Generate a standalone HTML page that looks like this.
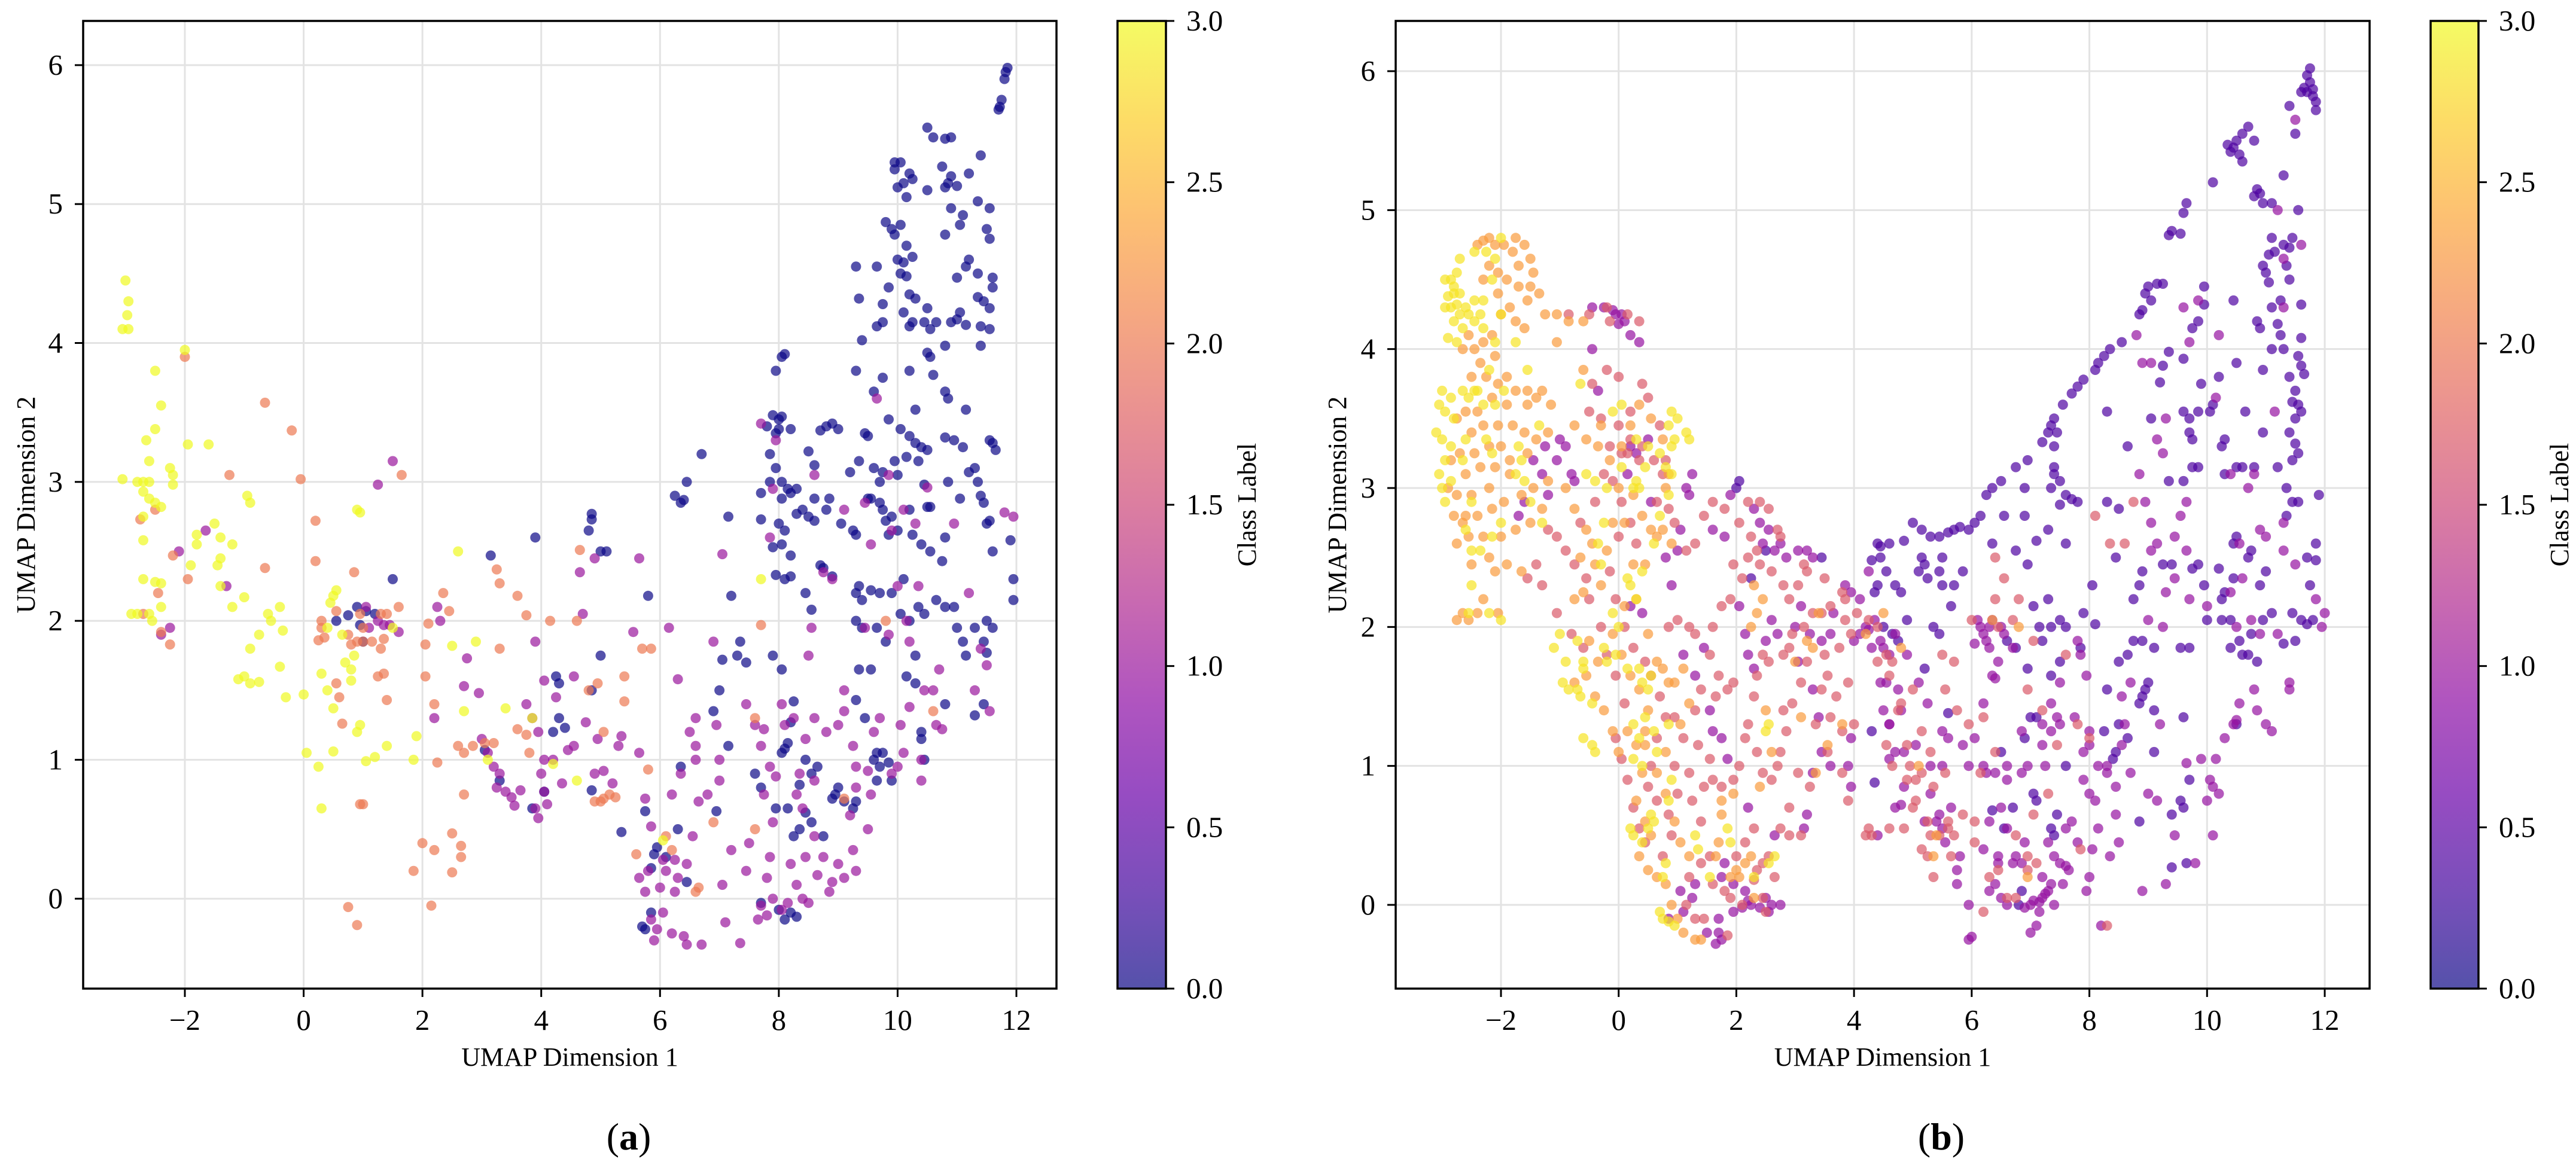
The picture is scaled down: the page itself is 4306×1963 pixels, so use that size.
<!DOCTYPE html>
<html><head><meta charset="utf-8"><style>
html,body{margin:0;padding:0;background:#fff;}
svg{display:block;font-family:"Liberation Serif",serif;}
</style></head>
<body>
<svg id="fig" width="4306" height="1963" viewBox="0 0 4306 1963" xmlns="http://www.w3.org/2000/svg">
<defs>
<linearGradient id="plasmaGrad" x1="0" y1="1" x2="0" y2="0">
<stop offset="0" stop-color="#0d0887"/><stop offset="0.1" stop-color="#41049d"/><stop offset="0.2" stop-color="#6a00a8"/><stop offset="0.3" stop-color="#8f0da4"/><stop offset="0.4" stop-color="#b12a90"/><stop offset="0.5" stop-color="#cc4778"/><stop offset="0.6" stop-color="#e16462"/><stop offset="0.7" stop-color="#f2844b"/><stop offset="0.8" stop-color="#fca636"/><stop offset="0.9" stop-color="#fcce25"/><stop offset="1" stop-color="#f0f921"/>
</linearGradient>
</defs>
</svg>
<script>
// ---------- data ----------
const xTicks = [-2, 0, 2, 4, 6, 8, 10, 12];
const yTicks = [0, 1, 2, 3, 4, 5, 6];
const cbTicks = [0.0, 0.5, 1.0, 1.5, 2.0, 2.5, 3.0];

// Panel (a): points grouped by class label
const aClassLabels = [0, 1, 2, 3];
const aClass3 = [[-3,4.45],[-2.95,4.3],[-2.97,4.2],[-3.05,4.1],[-2.95,4.1],[-2,3.95],[-2.5,3.8],[-2.4,3.55],[-2.5,3.38],[-2.65,3.3],[-1.95,3.27],[-1.6,3.27],[-2.6,3.15],[-2.25,3.1],[-2.2,3.05],[-3.05,3.02],[-2.8,3.0],[-2.7,3.0],[-2.6,3.0],[-2.2,2.98],[-2.7,2.93],[-2.6,2.88],[-2.5,2.85],[-2.4,2.82],[-2.7,2.75],[-1.5,2.7],[-1.8,2.62],[-1.4,2.6],[-1.8,2.55],[-1.2,2.55],[-1.4,2.45],[-2.7,2.58],[-1.9,2.4],[-1.45,2.4],[-2.7,2.3],[-2.5,2.28],[-2.4,2.27],[-1.4,2.25],[-2.9,2.05],[-2.8,2.05],[-2.6,2.05],[-2.55,2.0],[-2.4,2.1],[-1.2,2.1],[-1.0,2.17],[-0.9,2.85],[-0.95,2.9],[-0.4,2.1],[-0.6,2.05],[-0.55,2.0],[-0.75,1.9],[-0.9,1.8],[-0.35,1.93],[-0.4,1.67],[-1.0,1.6],[-1.1,1.58],[-0.9,1.55],[-0.75,1.56],[-0.3,1.45],[0,1.47],[0.05,1.05],[0.25,0.95],[0.3,0.65],[0.4,1.5],[0.5,1.37],[0.3,1.62],[0.5,1.06],[0.8,1.57],[0.95,1.25],[0.9,1.2],[1.05,0.99],[1.2,1.02],[1.4,1.1],[0.9,2.8],[0.95,2.78],[0.5,2.18],[0.55,2.22],[0.45,2.13],[0.85,1.75],[0.8,1.65],[0.7,1.7],[1.5,1.95],[1.9,1.17],[1.85,1.0],[2.6,2.5],[2.7,1.35],[2.5,1.82],[2.9,1.85],[3.1,1.0],[3.4,1.37],[3.85,1.3],[4.2,0.97],[4.6,0.85],[6.05,0.42],[7.7,2.3],[0.65,1.9],[0.4,1.95]];
const aClass2 = [[-2.0,3.9],[-0.65,3.57],[-0.2,3.37],[-0.05,3.02],[-1.25,3.05],[1.65,3.05],[-0.65,2.38],[-2.2,2.47],[-1.95,2.3],[-2.45,2.2],[-2.5,2.8],[-2.75,2.73],[-2.4,1.92],[-2.25,1.83],[-2.7,2.05],[0.2,2.72],[0.2,2.43],[0.3,2.0],[0.3,1.95],[0.35,1.88],[0.25,1.86],[0.55,2.07],[0.55,1.55],[0.6,1.45],[0.65,1.26],[0.85,2.35],[0.95,2.05],[1.0,1.95],[0.75,1.9],[0.8,1.83],[0.9,1.85],[1.0,1.85],[1.15,1.85],[1.3,1.8],[1.35,1.87],[1.4,2.05],[1.3,2.05],[1.25,1.6],[1.35,1.62],[1.4,1.43],[1.6,2.1],[0.95,0.68],[1.0,0.68],[2.05,1.6],[2.05,1.83],[2.1,1.98],[2.35,2.2],[2.45,2.07],[2.2,1.4],[2.25,0.98],[2.2,0.35],[2.0,0.4],[1.85,0.2],[2.15,-0.05],[2.5,0.47],[2.5,0.19],[2.65,0.38],[2.65,0.3],[2.7,0.75],[2.6,1.1],[2.7,1.05],[2.85,1.1],[3.3,1.8],[3.3,2.27],[3.25,2.37],[3.6,2.18],[3.75,2.04],[3.6,1.22],[3.75,1.18],[3.8,1.05],[3.2,1.12],[3.05,1.12],[4.15,2.0],[4.65,2.51],[4.6,2.0],[4.8,1.5],[4.95,1.55],[5.0,0.7],[4.9,0.7],[5.05,0.72],[5.15,0.75],[5.25,0.73],[5.05,1.2],[5.4,1.6],[5.4,1.42],[5.7,1.8],[5.85,1.8],[5.6,0.32],[6.2,0.35],[6.1,0.45],[6.6,0.05],[6.65,0.08],[5.8,0.93],[6.9,0.55],[7.6,1.3],[7.7,1.97],[7.6,0.5],[0.75,-0.06],[0.9,-0.19],[9.8,2.0],[10.6,1.35],[9.1,0.72]];
const aClass1 = [[1.5,3.15],[1.25,2.98],[-1.65,2.65],[-1.3,2.25],[-2.1,2.5],[-2.25,1.95],[-2.4,1.9],[1.05,2.1],[1.25,2.0],[1.35,1.97],[1.45,1.97],[1.6,1.92],[1.1,1.95],[2.25,2.1],[2.3,2.0],[2.2,1.3],[2.95,1.48],[2.7,1.53],[2.75,1.73],[3.0,1.15],[3.1,1.05],[3.2,0.95],[3.3,0.9],[3.25,0.8],[3.5,0.73],[3.55,0.67],[3.65,0.78],[3.4,0.77],[3.9,0.65],[3.95,0.58],[4.05,0.77],[4.1,0.68],[4.0,0.9],[4.05,1.0],[4.2,1.0],[3.95,1.2],[3.85,1.3],[3.75,1.4],[3.9,1.85],[4.05,1.57],[4.25,1.45],[4.35,0.83],[4.45,1.07],[4.55,1.6],[4.65,2.35],[4.7,2.05],[4.9,2.45],[4.75,1.27],[4.55,1.1],[4.95,1.15],[4.9,0.9],[5.05,0.92],[5.2,0.83],[5.35,1.17],[5.3,1.1],[5.55,1.92],[5.65,2.45],[5.65,1.05],[5.75,0.72],[5.85,0.52],[5.8,0.2],[5.75,0.05],[5.85,-0.15],[5.95,-0.22],[6.05,-0.1],[6.0,0.08],[6.1,0.2],[6.25,0.28],[6.25,0.05],[6.3,0.15],[6.4,-0.27],[6.45,0.25],[6.55,0.45],[6.7,-0.33],[6.45,-0.33],[6.5,1.2],[6.6,1.3],[6.6,1.1],[6.6,1.0],[6.65,0.7],[6.35,0.9],[6.2,0.75],[6.3,1.58],[6.15,1.95],[6.9,1.85],[7.05,2.48],[6.95,1.25],[7.0,1.0],[7.0,0.85],[7.05,0.1],[7.1,-0.17],[7.35,-0.32],[7.2,0.35],[7.45,0.2],[7.5,0.4],[7.45,1.4],[7.6,1.25],[7.7,1.1],[7.75,1.22],[7.85,0.95],[7.95,0.88],[7.75,0.75],[7.9,0.55],[7.85,0.3],[7.8,0.15],[7.7,-0.05],[7.65,-0.15],[7.8,-0.12],[7.9,0.0],[8.05,-0.08],[8.15,-0.03],[8.2,0.25],[8.3,0.1],[8.4,0.0],[8.5,-0.03],[8.45,0.3],[8.6,0.45],[8.65,0.17],[8.75,0.3],[8.85,0.05],[8.9,0.12],[9.0,0.25],[9.1,0.15],[9.25,0.35],[9.3,0.2],[9.2,0.6],[9.3,0.8],[9.3,0.95],[9.5,0.5],[9.55,0.75],[9.6,1.2],[9.7,1.3],[9.5,0.92],[9.9,0.9],[10.0,0.95],[10.1,1.05],[10.05,1.25],[10.2,1.38],[10.4,1.0],[10.45,1.5],[10.4,0.85],[10.6,1.5],[10.75,1.22],[10.65,1.25],[10.7,1.65],[11.3,1.5],[11.4,1.8],[11.55,1.35],[11.5,1.68],[11.95,2.75],[11.8,2.78],[11.2,2.2],[10.95,2.7],[10.3,2.7],[10.1,2.8],[10.5,2.96],[10.35,2.25],[10.0,2.25],[9.85,1.9],[10.15,2.0],[10.2,1.85],[9.45,1.95],[9.9,2.65],[9.55,2.55],[9.45,2.85],[9.1,2.8],[8.75,2.35],[8.9,2.3],[8.55,1.95],[8.5,1.75],[8.6,1.3],[8.8,1.2],[8.6,0.85],[8.4,0.65],[8.3,0.75],[8.35,0.9],[8.25,1.3],[8.45,1.15],[8.1,1.25],[8.05,1.4],[9.0,1.25],[9.1,1.35],[9.85,3.05],[9.65,3.6],[7.95,3.3],[7.7,3.42],[7.9,2.95],[7.85,2.6],[8.6,3.05],[9.1,1.5],[9.25,1.1],[6.2,-0.25],[5.9,-0.3],[6.8,0.75],[6.05,0.28],[5.65,0.15]];
const aClass0 = [[11.85,5.98],[11.82,5.95],[11.8,5.9],[11.75,5.75],[11.72,5.7],[11.7,5.68],[10.5,5.55],[10.6,5.48],[10.8,5.47],[10.9,5.48],[11.4,5.35],[9.95,5.3],[10.05,5.3],[9.95,5.25],[10.2,5.22],[10.75,5.27],[10.9,5.2],[11.2,5.22],[10.1,5.15],[10.25,5.18],[10.0,5.12],[10.5,5.1],[10.8,5.12],[10.85,5.15],[11.0,5.13],[10.15,5.05],[11.35,5.02],[11.55,4.97],[10.9,4.97],[11.1,4.92],[9.8,4.87],[9.9,4.82],[10.05,4.85],[11.05,4.85],[11.5,4.82],[9.95,4.78],[10.15,4.7],[10.8,4.78],[11.55,4.75],[10.1,4.58],[10.0,4.6],[10.25,4.62],[9.3,4.55],[9.65,4.55],[10.05,4.5],[10.15,4.48],[11.15,4.55],[11.35,4.5],[11.2,4.6],[11.6,4.47],[11.6,4.4],[11.0,4.47],[11.45,4.3],[11.55,4.25],[11.35,4.33],[10.2,4.35],[10.3,4.32],[10.5,4.25],[9.35,4.32],[9.75,4.28],[9.85,4.4],[10.1,4.22],[10.25,4.15],[10.45,4.15],[10.55,4.1],[10.65,4.15],[10.9,4.15],[11.0,4.17],[11.05,4.22],[11.15,4.13],[11.4,4.12],[11.55,4.1],[9.65,4.12],[9.75,4.15],[10.2,4.12],[9.4,4.02],[10.8,3.98],[11.4,3.98],[10.5,3.93],[10.55,3.9],[9.3,3.8],[9.75,3.75],[10.2,3.8],[10.6,3.77],[10.8,3.65],[10.85,3.6],[9.6,3.65],[10.3,3.52],[11.15,3.52],[8.05,3.9],[8.1,3.92],[7.95,3.8],[7.9,3.48],[8.0,3.45],[8.05,3.47],[8.0,3.38],[7.95,3.35],[7.8,3.4],[8.2,3.38],[7.85,3.2],[7.95,3.1],[8.5,3.22],[8.6,3.12],[8.7,3.37],[8.8,3.4],[8.9,3.42],[9.0,3.38],[9.45,3.35],[9.5,3.33],[9.85,3.45],[10.05,3.38],[10.2,3.33],[10.3,3.28],[10.4,3.25],[10.5,3.23],[10.8,3.32],[10.95,3.3],[11.55,3.3],[11.65,3.23],[11.6,3.28],[10.15,3.18],[10.35,3.15],[11.1,3.25],[9.95,3.15],[9.35,3.15],[9.2,3.07],[9.6,3.1],[9.75,3.07],[10.0,3.05],[11.2,3.07],[11.3,3.1],[9.7,3.0],[10.45,2.98],[10.85,3.0],[11.35,3.0],[11.4,2.9],[11.45,2.85],[10.5,2.82],[10.55,2.82],[11.05,2.88],[7.7,2.92],[7.85,3.0],[8.05,3.0],[8.15,2.95],[8.2,2.92],[8.3,2.95],[8.05,2.88],[8.6,2.88],[8.85,2.88],[8.8,2.8],[9.5,2.88],[9.55,2.88],[9.7,2.85],[9.75,2.8],[9.8,2.72],[9.9,2.75],[9.85,2.62],[10.2,2.8],[10.0,2.65],[10.25,2.62],[10.4,2.55],[10.55,2.5],[10.75,2.43],[10.8,2.6],[11.5,2.7],[11.55,2.72],[11.9,2.58],[11.95,2.3],[11.95,2.15],[11.6,2.5],[9.25,2.65],[9.3,2.62],[9.05,2.7],[8.6,2.72],[8.5,2.75],[8.4,2.8],[8.3,2.77],[8.0,2.7],[8.1,2.65],[7.7,2.73],[7.9,2.53],[8.05,2.55],[8.2,2.47],[7.95,2.33],[8.1,2.3],[8.2,2.32],[8.45,2.2],[8.55,2.08],[8.7,2.4],[8.75,2.38],[8.9,2.32],[9.35,2.25],[9.3,2.2],[9.4,2.15],[9.55,2.22],[9.7,2.2],[9.9,2.2],[10.1,2.3],[10.05,2.05],[10.2,2.0],[10.35,2.1],[10.45,2.05],[10.65,2.15],[10.8,2.1],[10.95,2.1],[11.0,1.95],[11.1,1.85],[11.15,1.75],[11.3,1.95],[11.5,2.0],[11.6,1.95],[11.45,1.85],[11.5,1.77],[9.3,2.0],[9.4,1.95],[9.65,1.95],[9.8,1.85],[10.3,1.75],[10.15,1.6],[10.3,1.55],[10.4,1.15],[10.4,1.2],[10.45,1.0],[10.8,1.4],[11.3,1.32],[11.45,1.4],[9.55,1.65],[9.35,1.65],[9.3,1.43],[9.45,1.3],[9.6,1.0],[9.65,1.05],[9.75,1.05],[9.85,0.98],[9.7,0.95],[9.65,0.85],[9.9,0.85],[9.25,0.65],[9.1,0.7],[8.95,0.75],[8.9,0.72],[8.75,0.45],[8.35,0.5],[8.55,0.55],[8.45,0.62],[8.15,0.65],[8.35,0.82],[7.95,0.65],[8.1,1.08],[8.05,1.05],[8.15,1.12],[8.45,1.0],[8.2,1.27],[7.9,1.75],[8.05,1.65],[8.25,1.42],[7.35,1.85],[7.45,1.7],[7.3,1.75],[7.05,1.72],[7.2,2.18],[7.15,2.75],[6.7,3.2],[6.45,3.0],[6.25,2.9],[6.35,2.85],[6.4,2.87],[7.0,1.5],[6.9,1.35],[5.8,2.18],[5.1,2.5],[5.0,2.5],[4.8,2.65],[4.85,2.77],[4.85,2.73],[5.0,1.75],[4.85,1.5],[3.9,2.6],[3.15,2.47],[4.25,1.6],[4.3,1.55],[4.3,1.3],[4.4,1.23],[4.2,1.2],[3.05,1.07],[3.3,0.85],[3.85,0.65],[4.05,0.77],[4.85,0.78],[5.35,0.48],[5.75,0.63],[5.95,0.37],[5.9,0.32],[5.85,0.22],[5.7,-0.2],[5.75,-0.22],[5.85,-0.1],[6.1,0.3],[6.3,0.5],[6.35,0.95],[6.45,0.12],[6.95,0.63],[7.15,1.1],[7.6,0.9],[7.7,0.8],[8.65,0.95],[8.55,0.9],[9.0,0.8],[9.3,0.7],[7.7,-0.03],[8.0,-0.08],[8.1,-0.15],[8.2,-0.1],[8.3,-0.13],[8.25,0.45],[1.0,1.85],[0.9,2.1],[0.95,1.97],[0.75,2.04],[0.55,2.0],[1.2,2.05],[1.5,2.3],[1.05,2.07]];

// Panel (b): points grouped by colour value
const bGroupValues = [0.4, 0.95, 1.7, 2.3, 2.85];
const bPurple = [[11.75,6.02],[11.7,5.97],[11.75,5.92],[11.8,5.87],[11.7,5.85],[11.65,5.88],[11.8,5.82],[11.85,5.78],[11.6,5.85],[11.85,5.72],[11.4,5.75],[11.5,5.55],[10.7,5.6],[10.6,5.55],[10.5,5.5],[10.45,5.45],[10.35,5.47],[10.55,5.4],[10.6,5.35],[10.4,5.42],[10.8,5.5],[11.3,5.25],[10.1,5.2],[10.85,5.15],[10.9,5.12],[10.8,5.1],[11.1,5.05],[10.95,5.05],[11.55,5.0],[9.65,5.05],[9.6,4.98],[9.4,4.85],[9.55,4.83],[9.35,4.82],[11.45,4.8],[11.4,4.73],[11.3,4.75],[11.1,4.8],[11.15,4.7],[11.05,4.68],[11.35,4.6],[10.95,4.6],[11.4,4.5],[11.0,4.55],[11.05,4.48],[9.0,4.45],[9.15,4.47],[9.25,4.47],[8.95,4.4],[9.05,4.35],[8.9,4.28],[8.85,4.25],[9.95,4.45],[9.95,4.32],[10.45,4.35],[11.25,4.35],[11.1,4.3],[11.6,4.32],[10.85,4.2],[10.9,4.15],[11.2,4.18],[11.25,4.1],[11.6,4.08],[11.55,3.95],[11.3,4.0],[11.1,4.0],[11.6,3.88],[11.65,3.82],[11.4,3.8],[11.5,3.7],[11.55,3.6],[11.6,3.55],[11.5,3.5],[11.45,3.62],[11.4,3.4],[11.5,3.32],[11.45,3.2],[11.55,3.25],[11.2,3.15],[11.35,3.0],[11.45,2.9],[11.55,2.9],[11.35,2.8],[11.7,2.5],[11.85,2.48],[11.75,2.3],[11.8,2.05],[11.7,2.02],[11.6,2.05],[11.45,2.1],[11.5,1.9],[11.3,1.88],[11.9,2.95],[11.85,2.6],[9.75,4.15],[9.85,4.2],[9.6,3.93],[9.35,3.98],[9.25,3.88],[9.2,3.76],[9.9,3.75],[10.5,3.9],[10.95,3.85],[10.2,3.8],[8.55,4.05],[8.35,4.0],[8.25,3.95],[8.15,3.9],[8.1,3.85],[7.9,3.78],[7.8,3.73],[7.7,3.68],[7.55,3.6],[7.4,3.5],[7.35,3.45],[7.3,3.4],[7.45,3.4],[7.4,3.3],[7.2,3.33],[6.95,3.2],[6.75,3.15],[6.9,3.0],[6.5,3.05],[6.35,3.0],[6.25,2.95],[6.15,2.8],[6.05,2.75],[5.95,2.7],[5.8,2.72],[5.7,2.7],[5.6,2.68],[5.45,2.65],[5.3,2.65],[5.15,2.7],[5.0,2.75],[4.85,2.62],[4.6,2.6],[4.45,2.58],[4.4,2.6],[4.45,2.5],[4.3,2.48],[4.55,2.4],[4.7,2.3],[4.4,2.3],[4.35,2.25],[4.8,2.25],[5.2,2.45],[5.25,2.35],[5.5,2.5],[5.45,2.4],[5.5,2.3],[5.7,2.3],[5.65,2.15],[5.85,2.4],[4.9,2.05],[4.75,1.9],[4.65,1.95],[4.5,2.0],[7.4,3.15],[7.4,3.1],[7.5,3.05],[7.35,3.0],[7.6,2.95],[7.8,2.9],[7.7,2.92],[7.5,2.88],[7.3,2.7],[7.6,2.6],[7.3,2.2],[7.5,2.05],[7.35,2.0],[7.6,2.0],[8.1,2.02],[7.85,1.85],[7.5,1.75],[7.35,1.65],[7.2,1.9],[7.15,2.0],[6.95,1.7],[6.75,1.85],[6.6,1.9],[6.9,2.8],[6.75,2.55],[6.35,2.6],[8.5,2.85],[8.3,3.55],[8.65,3.3],[9.05,3.5],[9.6,3.55],[9.7,3.5],[9.85,3.55],[9.7,3.4],[9.75,3.35],[10.05,3.55],[10.1,3.6],[10.3,3.35],[10.5,3.15],[10.6,3.15],[10.25,3.3],[9.85,3.15],[9.75,3.15],[10.3,3.1],[9.6,3.05],[9.35,3.05],[10.65,3.55],[10.8,3.15],[10.95,3.4],[9.25,2.45],[9.4,2.45],[8.9,2.4],[8.85,2.3],[8.75,2.2],[9.85,2.45],[9.75,2.42],[9.95,2.3],[10.2,2.42],[10.3,2.25],[10.45,2.6],[10.5,2.65],[10.7,2.5],[10.75,2.55],[10.45,2.35],[10.9,2.3],[11.0,2.4],[10.25,2.2],[10.4,2.05],[10.55,1.9],[10.6,1.8],[10.4,1.85],[10.7,1.8],[10.85,1.75],[10.75,1.95],[10.95,2.05],[11.1,2.1],[9.7,1.85],[9.55,1.85],[9.1,1.85],[8.9,1.9],[8.75,1.9],[8.65,1.8],[8.5,1.75],[8.3,1.55],[8.25,1.25],[8.5,1.3],[8.65,1.2],[8.45,1.1],[8.4,1.05],[8.95,1.55],[9.0,1.6],[8.9,1.5],[8.85,1.45],[9.1,1.4],[9.6,1.35],[10.0,2.05],[10.25,2.05],[9.55,0.75],[9.6,0.7],[9.7,0.9],[9.4,0.65],[9.4,0.27],[9.65,0.3],[8.85,0.6],[7.9,2.1],[8.05,2.3],[8.3,2.9],[8.45,2.5],[9.1,1.1],[10.5,1.3],[7.05,2.15],[7.1,2.62],[6.95,2.45],[6.55,2.8],[5.15,2.5],[5.1,2.4],[5.35,2.0],[5.45,1.95],[5.2,1.7],[7.4,0.5],[7.35,0.55],[7.45,0.65],[7.1,0.75],[7.05,0.8],[6.8,0.0],[6.85,0.1],[6.55,0.55],[6.7,0.7],[6.9,1.2],[7.0,1.35],[7.1,1.35],[6.5,1.1],[7.6,1.0],[4.3,1.25],[4.35,0.88],[5.6,1.38],[6.35,0.68],[2.0,3.0],[2.05,3.05],[2.5,2.55],[3.45,2.5],[2.25,2.35]];
const bMagenta = [[6.1,2.05],[6.15,2.0],[6.2,1.95],[6.3,2.0],[6.35,2.05],[6.25,1.9],[6.05,1.88],[6.3,1.85],[6.5,2.0],[6.55,1.95],[6.7,1.85],[6.45,1.75],[6.35,1.65],[6.4,1.63],[6.2,1.45],[6.05,1.2],[6.6,1.0],[6.2,1.0],[6.25,0.95],[6.4,0.95],[6.6,0.9],[6.85,0.95],[6.95,1.0],[6.5,0.7],[6.6,0.55],[6.9,0.45],[6.75,0.35],[6.85,0.3],[6.7,0.3],[6.4,0.15],[6.3,0.1],[6.5,0.05],[6.6,0.0],[6.9,-0.02],[7.0,0.0],[7.05,0.03],[7.15,0.02],[7.2,0.05],[7.3,0.1],[7.25,0.08],[7.35,0.15],[7.4,0.0],[7.15,-0.05],[7.1,-0.15],[7.0,-0.2],[7.5,0.3],[7.6,0.28],[7.55,0.15],[7.4,0.35],[7.3,0.45],[7.2,0.2],[7.6,0.55],[7.8,0.45],[8.0,0.2],[7.95,0.1],[8.0,0.8],[7.9,0.9],[8.3,0.95],[8.45,0.85],[7.25,1.0],[7.5,1.3],[7.35,1.25],[7.2,1.15],[7.75,1.35],[8.0,1.25],[7.9,1.1],[7.95,1.65],[7.8,1.9],[7.5,1.6],[7.35,1.45],[9.0,2.05],[9.25,2.0],[9.7,2.2],[10.0,2.15],[10.4,2.25],[10.9,2.7],[11.3,2.55],[10.6,2.35],[10.5,2.0],[10.9,1.95],[11.3,2.75],[11.15,3.55],[10.8,3.1],[11.0,2.65],[10.75,2.05],[11.2,1.95],[11.5,2.45],[11.95,2.0],[12.0,2.1],[11.85,2.2],[11.4,1.6],[11.4,1.55],[10.85,1.4],[10.8,1.55],[10.55,1.45],[10.5,1.33],[10.45,1.3],[10.3,1.2],[10.15,1.05],[10.05,0.9],[10.1,0.85],[10.2,0.8],[10.0,0.75],[10.1,0.5],[9.9,1.05],[11.1,1.25],[11.0,1.3],[9.65,1.02],[9.2,1.3],[9.15,0.75],[9.3,2.25],[9.45,2.35],[9.15,2.6],[9.05,2.55],[9.05,2.75],[8.95,2.9],[8.85,3.1],[9.65,2.9],[9.55,2.8],[9.45,2.65],[9.25,3.25],[9.15,3.35],[9.65,2.55],[10.15,3.65],[10.4,3.1],[10.7,3.0],[10.55,2.6],[9.3,3.5],[8.8,4.1],[8.9,3.9],[9.05,3.9],[9.6,4.3],[9.85,4.35],[9.7,4.05],[10.2,4.1],[11.3,4.3],[11.6,4.75],[11.2,5.0],[11.5,5.65],[11.3,4.65],[7.45,1.35],[7.85,1.8],[8.0,1.15],[8.55,1.15],[8.6,1.3],[8.7,0.95],[8.3,1.0],[8.1,0.75],[8.15,0.55],[8.45,0.65],[8.5,0.45],[8.35,0.35],[8.05,0.4],[8.2,-0.15],[7.65,0.25],[5.95,1.0],[5.85,1.15],[5.6,1.2],[5.5,1.0],[5.3,0.8],[5.45,0.65],[5.2,0.6],[5.4,0.6],[5.5,0.55],[5.55,0.45],[5.75,0.25],[5.8,0.35],[5.75,0.15],[5.95,0.0],[5.95,-0.25],[6.0,-0.23],[6.2,0.4],[6.3,0.6],[6.45,0.35],[6.45,0.3],[5.65,0.7],[5.3,1.0],[5.25,1.45],[5.5,1.25],[5.05,1.15],[4.85,1.1],[4.7,1.1],[4.6,1.05],[4.85,0.85],[4.8,0.72],[4.7,0.7],[4.4,0.5],[4.8,1.4],[4.6,1.3],[4.5,1.4],[4.55,1.6],[4.75,1.55],[4.9,1.8],[5.1,1.6],[4.6,1.8],[4.45,1.9],[4.3,1.85],[4.5,1.85],[4.7,1.95],[4.1,1.95],[4.0,1.9],[4.2,2.0],[4.35,2.05],[4.25,1.98],[3.95,2.25],[3.85,2.3],[4.1,2.2],[3.3,2.5],[3.2,2.55],[3.05,2.55],[2.75,2.6],[2.65,2.55],[2.85,2.5],[2.45,2.6],[2.6,2.05],[2.7,1.95],[2.5,1.9],[3.1,2.15],[3.0,2.0],[3.25,1.95],[3.45,1.9],[3.6,1.95],[3.65,2.1],[2.3,2.85],[2.4,2.75],[2.55,2.7],[1.9,2.95],[1.8,2.65],[1.6,2.7],[1.25,3.1],[1.15,3.0],[1.05,2.7],[1.2,2.95],[0.55,2.9],[0.15,3.1],[0.2,3.3],[0.3,3.25],[0.5,3.35],[-0.35,3.7],[-0.45,4.0],[-0.25,4.3],[-0.1,4.28],[-0.05,4.25],[0.05,4.25],[0.1,4.2],[0.2,4.1],[0.0,4.18],[0.35,4.05],[-0.45,4.3],[-1.0,3.35],[-1.25,3.3],[-0.8,3.1],[-0.75,3.05],[-1.05,3.2],[-0.9,3.3],[-1.3,3.1],[-1.45,3.2],[-1.2,2.95],[-1.6,2.9],[-1.7,2.8],[0.8,2.5],[0.9,2.3],[1.0,2.55],[0.4,2.1],[0.2,2.15],[1.1,1.8],[1.3,1.65],[1.45,1.85],[1.55,1.4],[1.75,1.2],[1.85,1.05],[1.6,1.25],[2.05,2.15],[2.15,1.95],[2.2,1.8],[2.3,1.7],[3.05,1.75],[3.3,1.55],[3.4,1.35],[3.45,1.1],[3.3,0.95],[3.6,1.0],[3.95,1.2],[3.9,1.0],[3.95,0.85],[2.2,0.7],[2.65,0.5],[3.15,0.55],[3.2,0.65],[1.8,0.3],[1.75,0.2],[1.95,0.15],[1.7,-0.2],[1.75,-0.25],[1.65,-0.28],[1.5,-0.2],[1.7,-0.1],[1.95,-0.05],[2.1,-0.02],[2.2,0.03],[2.25,0.0],[2.4,-0.02],[2.5,0.05],[2.55,-0.05],[2.6,0.0],[2.75,0.0],[2.15,0.1],[1.3,0.15],[1.25,0.05],[1.1,-0.05],[1.05,0.1],[0.85,-0.1],[4.25,2.4],[4.45,1.6],[4.6,1.3],[8.7,1.6],[8.55,1.5],[8.15,1.0],[7.7,0.6],[7.2,1.3],[6.85,1.25],[8.9,0.1],[9.3,0.15],[9.0,0.8],[9.45,0.5],[9.8,0.3]];
const bPink = [[3.5,2.35],[3.8,2.25],[3.85,2.2],[4.25,2.05],[4.4,2.0],[4.55,1.8],[4.65,1.75],[4.4,1.75],[4.6,1.65],[4.8,1.45],[4.75,1.4],[4.9,1.15],[4.95,1.0],[5.05,0.9],[5.15,0.95],[5.35,0.85],[5.55,0.95],[5.6,0.6],[5.6,0.55],[5.7,0.5],[5.45,0.5],[5.15,0.4],[5.25,0.35],[5.35,0.2],[5.05,0.75],[4.85,0.55],[4.6,0.55],[4.55,1.15],[4.25,0.55],[4.3,0.5],[5.0,1.55],[5.15,1.25],[5.3,1.1],[5.95,1.3],[6.4,1.1],[6.15,0.95],[6.3,0.2],[6.45,0.25],[6.6,0.05],[6.2,-0.05],[6.75,0.05],[6.95,0.25],[7.1,0.3],[6.2,1.35],[5.7,1.75],[5.55,1.55],[6.0,2.05],[6.45,2.0],[6.4,2.2],[6.55,2.35],[6.4,2.5],[6.7,2.05],[7.05,1.9],[6.95,1.55],[7.6,1.8],[8.1,2.8],[8.35,2.6],[8.6,2.6],[8.75,2.9],[3.95,1.95],[3.75,1.85],[3.5,1.8],[3.55,1.65],[3.2,1.75],[3.1,1.6],[2.95,1.45],[2.8,1.4],[2.85,1.25],[2.75,1.1],[2.7,1.0],[2.6,0.9],[2.45,0.95],[2.35,1.1],[2.2,1.3],[2.15,1.2],[2.05,1.0],[1.95,0.9],[2.3,1.5],[2.35,1.65],[2.45,1.8],[2.55,1.75],[2.8,1.8],[2.9,1.85],[2.95,1.95],[3.15,2.0],[3.3,2.1],[3.45,2.1],[3.6,2.15],[3.85,2.05],[4.05,2.1],[3.9,1.6],[3.7,1.5],[3.45,1.55],[3.6,1.35],[3.8,1.25],[3.35,1.3],[3.55,1.1],[3.8,0.95],[3.9,0.75],[3.25,0.85],[3.05,0.95],[2.9,0.7],[2.75,0.55],[2.9,0.5],[3.1,0.5],[2.55,0.35],[2.45,0.3],[2.35,0.25],[2.3,0.18],[2.0,0.35],[2.15,0.45],[2.3,0.55],[2.45,0.05],[2.65,0.2],[2.5,-0.05],[2.1,0.0],[1.8,0.1],[1.6,0.15],[1.55,0.35],[1.4,0.3],[1.2,0.2],[1.15,0.0],[1.3,-0.1],[1.45,-0.1],[1.85,-0.22],[1.9,0.05],[1.4,0.6],[1.25,0.75],[1.0,0.8],[0.95,1.0],[1.2,0.95],[1.45,0.85],[1.6,0.9],[1.75,0.85],[1.55,1.05],[1.35,1.15],[1.1,1.2],[0.95,1.35],[1.3,1.4],[1.4,1.55],[1.65,1.5],[1.85,1.55],[1.95,1.6],[1.7,1.65],[1.55,1.8],[1.3,1.95],[1.2,2.0],[1.0,2.05],[0.85,2.0],[1.6,2.0],[1.75,2.15],[1.9,2.2],[1.95,2.45],[2.1,2.35],[2.2,2.5],[2.25,2.65],[2.35,2.55],[2.4,2.45],[2.6,2.4],[2.8,2.3],[2.9,2.2],[3.05,2.3],[3.15,2.45],[3.2,2.4],[2.7,2.7],[2.75,2.65],[2.55,2.85],[2.4,2.9],[2.2,2.9],[2.05,2.75],[1.8,2.85],[1.6,2.9],[1.45,2.8],[1.3,2.6],[1.15,2.55],[0.95,2.75],[0.85,2.85],[0.65,2.9],[0.75,3.1],[0.6,3.2],[0.4,3.3],[0.35,3.2],[0.2,3.35],[0.0,3.45],[0.05,3.25],[-0.1,3.05],[0.05,2.9],[0.2,2.75],[0.3,2.6],[0.0,2.65],[-0.15,2.4],[-0.05,2.2],[0.1,2.0],[0.25,1.85],[0.45,1.75],[0.55,1.65],[0.7,1.5],[0.8,1.35],[0.65,1.2],[0.55,1.0],[0.5,0.85],[0.65,0.75],[0.85,0.65],[0.9,0.5],[0.75,0.35],[0.45,0.45],[0.35,0.55],[0.25,0.7],[0.15,0.9],[0.05,1.05],[-0.05,1.2],[0.1,1.45],[-0.05,1.65],[-0.2,1.8],[-0.3,2.0],[-0.5,2.2],[-0.55,2.35],[-0.75,2.45],[-0.9,2.55],[-1.05,2.65],[-1.2,2.7],[-0.65,2.75],[-0.4,2.9],[-0.25,3.1],[-0.15,3.3],[-0.3,3.5],[-0.5,3.55],[-0.45,3.75],[-0.2,3.85],[0.4,3.75],[0.5,3.65],[0.7,3.45],[0.8,3.2],[-1.4,2.45],[-1.55,2.35],[-1.3,2.3],[-1.05,2.1],[-0.8,1.95],[-0.6,1.85],[0.35,4.2],[0.15,4.25],[-0.15,4.2],[-0.5,4.25],[-0.85,4.25],[-0.2,4.3],[0.0,3.8],[0.2,3.55],[0.15,3.25],[4.0,1.3],[4.2,0.5],[4.65,1.0],[5.5,1.8],[5.75,1.4],[6.8,2.2],[7.2,1.4],[7.45,1.15],[7.8,1.3],[8.0,1.2],[7.05,0.65],[7.3,0.8],[6.75,0.5],[6.95,0.35],[7.85,0.4],[8.3,-0.15],[6.05,0.6],[6.05,0.45],[5.65,0.35],[5.85,0.65],[5.25,0.6],[5.3,0.5],[5.0,0.7],[4.9,0.9]];
const bOrange = [[-2.4,4.75],[-2.3,4.78],[-2.2,4.8],[-2.1,4.75],[-1.95,4.75],[-1.75,4.8],[-1.6,4.75],[-1.8,4.7],[-1.5,4.65],[-1.7,4.6],[-1.45,4.55],[-1.5,4.45],[-1.7,4.45],[-1.55,4.35],[-1.35,4.4],[-1.9,4.5],[-2.05,4.55],[-2.2,4.6],[-2.3,4.5],[-2.05,4.4],[-1.85,4.3],[-2.0,4.25],[-1.75,4.2],[-1.6,4.15],[-1.25,4.25],[-1.05,4.25],[-0.85,4.2],[-0.6,4.2],[-1.05,4.05],[-2.15,4.1],[-2.3,4.05],[-2.45,4.0],[-2.55,4.1],[-2.65,4.0],[-2.1,3.95],[-2.35,3.9],[-2.25,3.8],[-2.5,3.8],[-2.05,3.75],[-1.9,3.8],[-1.75,3.7],[-1.55,3.7],[-1.4,3.65],[-1.3,3.7],[-1.15,3.6],[-1.55,3.6],[-1.9,3.6],[-2.15,3.65],[-2.4,3.55],[-2.6,3.55],[-2.75,3.5],[-2.5,3.4],[-2.3,3.45],[-2.05,3.45],[-1.8,3.45],[-1.6,3.4],[-1.4,3.35],[-1.2,3.4],[-2.0,3.3],[-2.2,3.3],[-2.45,3.25],[-2.7,3.25],[-2.85,3.2],[-2.6,3.1],[-2.35,3.15],[-2.1,3.15],[-1.85,3.2],[-1.55,3.25],[-1.85,3.1],[-2.2,3.0],[-2.5,2.95],[-2.75,2.95],[-2.6,2.8],[-2.4,2.8],[-2.15,2.85],[-1.95,2.9],[-1.65,2.95],[-1.45,3.0],[-1.3,2.85],[-1.5,2.75],[-1.75,2.7],[-2.0,2.65],[-2.3,2.65],[-2.55,2.65],[-2.75,2.6],[-2.5,2.45],[-2.2,2.5],[-1.9,2.45],[-1.65,2.4],[-2.1,2.4],[-2.05,2.1],[-2.3,2.2],[-2.4,2.1],[-2.55,2.05],[-2.75,2.05],[-2.65,2.1],[-1.2,3.05],[-0.9,3.0],[-0.75,2.85],[-0.55,2.7],[-0.45,2.6],[-0.65,2.5],[-0.4,2.45],[-0.6,2.25],[-0.75,2.2],[-0.3,2.3],[-0.2,2.55],[-0.1,2.75],[0.1,2.75],[0.25,2.95],[0.0,3.0],[-0.15,3.2],[-0.35,3.3],[-0.55,3.35],[-0.75,3.45],[-0.6,3.85],[-0.3,3.45],[0.05,3.3],[0.2,3.45],[0.35,3.6],[0.55,3.5],[0.75,3.35],[0.85,3.1],[0.8,3.0],[0.55,2.7],[0.4,2.8],[0.25,2.45],[0.45,2.45],[0.65,2.65],[0.75,2.7],[0.9,2.6],[-0.5,1.9],[-0.35,1.75],[-0.55,1.65],[-0.75,1.6],[-0.4,1.5],[-0.25,1.4],[-0.1,1.25],[0.0,1.1],[0.15,1.25],[0.3,1.15],[0.45,1.25],[0.5,1.4],[0.35,1.55],[0.2,1.65],[0.05,1.8],[-0.1,1.95],[0.1,2.15],[0.3,2.2],[0.5,1.95],[0.75,1.7],[0.85,1.6],[0.65,1.75],[0.45,1.15],[0.4,0.95],[0.3,0.75],[0.45,0.6],[0.55,0.5],[0.35,0.35],[0.5,0.25],[0.65,0.2],[0.8,0.15],[0.9,0.0],[1.0,-0.1],[1.1,-0.2],[1.3,-0.25],[1.4,-0.25],[1.2,0.35],[1.05,0.45],[0.95,0.6],[0.8,0.8],[0.65,0.95],[0.8,1.1],[1.05,1.3],[1.2,1.45],[0.95,1.6],[1.1,1.7],[1.75,0.65],[1.75,0.75],[1.65,0.35],[1.9,0.2],[2.05,0.2],[2.15,0.3],[2.25,0.35],[2.0,0.25],[2.3,0.05],[1.7,0.45],[2.25,2.0],[2.35,2.1],[2.45,2.2],[2.3,2.3],[3.2,1.9],[3.3,1.85],[3.4,2.1],[3.0,1.75],[3.1,1.35],[2.5,1.4],[2.6,1.1],[2.4,0.85],[1.95,0.8],[3.35,0.95],[3.55,1.15],[3.8,1.3],[4.2,1.95],[4.5,2.1],[4.8,1.85],[5.35,0.35],[5.4,0.5],[6.35,2.05],[6.8,2.0],[6.95,0.2],[5.1,1.0],[-2.8,2.8],[-2.65,2.75],[-2.9,3.0]];
const bYellow = [[-2.85,4.5],[-2.95,4.5],[-2.8,4.4],[-2.9,4.38],[-2.75,4.32],[-2.85,4.3],[-2.7,4.25],[-2.8,4.2],[-2.9,4.08],[-2.65,4.15],[-2.75,4.05],[-2.7,4.65],[-2.75,4.55],[-2.8,4.45],[-2.95,4.3],[-2.7,4.4],[-2.6,4.3],[-2.45,4.7],[-2.25,4.7],[-2.1,4.65],[-2.0,4.8],[-2.15,4.5],[-2.0,4.25],[-2.1,4.05],[-2.3,4.15],[-2.45,4.35],[-1.75,4.05],[-1.55,3.85],[-1.7,3.3],[-1.65,3.2],[-1.75,3.1],[-1.6,3.05],[-1.5,2.9],[-1.35,3.45],[-1.3,2.75],[-3.0,3.7],[-3.05,3.6],[-2.95,3.55],[-3.1,3.4],[-3.0,3.35],[-2.85,3.3],[-2.95,3.2],[-3.05,3.1],[-3.0,3.0],[-2.85,3.05],[-2.95,2.9],[-2.8,3.5],[-2.85,3.65],[-2.65,3.7],[-2.55,3.65],[-2.45,3.7],[-2.3,3.6],[-2.4,3.7],[-2.2,3.85],[-2.35,4.25],[-2.45,4.2],[-2.55,4.25],[-2.3,4.35],[-2.6,3.35],[-2.65,3.2],[-2.25,3.35],[-2.1,3.6],[-2.15,3.25],[-1.95,3.7],[-2.5,2.9],[-2.6,2.7],[-2.5,2.55],[-2.35,2.55],[-2.15,2.65],[-2.0,2.75],[-2.5,2.3],[-2.0,2.05],[-2.2,2.1],[-2.55,2.1],[-1.1,1.85],[-1.0,1.95],[-0.9,1.75],[-0.95,1.6],[-0.85,1.55],[-0.7,1.55],[-0.65,1.5],[-0.6,1.7],[-0.7,1.9],[-0.6,1.75],[-0.45,1.45],[-0.6,1.2],[-0.45,1.15],[-0.4,1.1],[-0.25,1.85],[-0.2,1.75],[-0.3,2.45],[-0.35,2.6],[-0.25,2.75],[-0.2,3.0],[-0.55,3.1],[-0.65,3.75],[-0.4,3.05],[-0.1,3.55],[0.05,3.15],[0.3,3.05],[0.45,3.15],[0.35,3.0],[0.25,3.0],[0.5,3.3],[0.7,3.25],[0.9,3.55],[0.85,3.45],[1.0,3.5],[0.95,3.35],[1.2,3.35],[1.15,3.4],[0.9,3.3],[0.8,3.15],[0.85,2.95],[0.9,3.1],[0.6,2.6],[0.7,2.8],[0.3,2.2],[0.2,2.3],[0.4,2.4],[0.15,2.35],[-0.1,2.1],[0.0,2.0],[-0.05,1.8],[0.15,1.7],[0.35,1.7],[0.4,1.6],[0.55,1.65],[0.5,1.55],[0.45,1.35],[0.25,1.3],[0.35,1.2],[0.25,1.05],[0.4,1.0],[0.6,1.25],[0.65,1.1],[0.85,1.3],[0.9,0.9],[0.85,0.75],[0.6,0.6],[0.5,0.55],[0.2,0.55],[0.25,0.5],[0.4,0.45],[0.55,0.65],[0.8,0.3],[0.75,0.2],[0.7,-0.05],[0.75,-0.1],[0.85,-0.12],[0.95,-0.15],[1.3,0.5],[1.35,0.4],[2.5,1.25],[2.55,1.3],[2.65,0.35],[2.55,0.3],[2.3,0.2],[1.55,0.2],[1.9,0.45],[1.85,0.55],[0.05,3.6],[0.3,3.35]];

// ---------- rendering ----------
const NS = "http://www.w3.org/2000/svg";
const svg = document.getElementById("fig");
const plasmaStops = ["#0d0887","#41049d","#6a00a8","#8f0da4","#b12a90","#cc4778","#e16462","#f2844b","#fca636","#fcce25","#f0f921"];
function hex2rgb(h){return [parseInt(h.slice(1,3),16),parseInt(h.slice(3,5),16),parseInt(h.slice(5,7),16)];}
function plasma(v){ // v in [0,3]
  let t = Math.max(0, Math.min(1, v/3)) * 10;
  let i = Math.min(9, Math.floor(t)), f = t - i;
  const a = hex2rgb(plasmaStops[i]), b = hex2rgb(plasmaStops[i+1]);
  return "rgb(" + a.map((c,k)=>Math.round(c+(b[k]-c)*f)).join(",") + ")";
}
function mk(tag, attrs, parent){
  const e = document.createElementNS(NS, tag);
  for (const k in attrs) e.setAttribute(k, attrs[k]);
  (parent||svg).appendChild(e); return e;
}
function linScale(d0,d1,r0,r1){ return v => r0 + (v-d0)/(d1-d0)*(r1-r0); }

function panel(cfg){
  const g = mk("g", {});
  
  
  const X = linScale(-2, 12, cfg.xm2, cfg.x12);
  const Y = linScale(0, 6, cfg.y0, cfg.y6);
  const L = cfg.left, R = cfg.right, T = 35, B = 1653;
  // grid
  const grid = mk("g", {}, g);
  
  
  xTicks.forEach(t => mk("line", {x1:X(t), x2:X(t), y1:T, y2:B, stroke:"#e3e3e3", "stroke-width":3}, grid));
  yTicks.forEach(t => mk("line", {x1:L, x2:R, y1:Y(t), y2:Y(t), stroke:"#e3e3e3", "stroke-width":3}, grid));
  // points
  const pts = mk("g", {}, g);
  
  
  cfg.groups.forEach(gr => {
    const col = plasma(gr.value);
    gr.points.forEach(p => {
      const c = mk("circle", {cx:X(p[0]).toFixed(1), cy:Y(p[1]).toFixed(1), r:8.5, fill:col, "fill-opacity":0.7}, pts);
      
      
    });
  });
  // frame
  const fr = mk("rect", {x:L, y:T, width:R-L, height:B-T, fill:"none", stroke:"#000", "stroke-width":3.5}, g);
  
  
  // ticks
  xTicks.forEach(t => {
    mk("line", {x1:X(t), x2:X(t), y1:B, y2:B+14, stroke:"#000", "stroke-width":3}, g);
    const tx = mk("text", {x:X(t), y:1722, "font-size":49, "text-anchor":"middle"}, g);
    tx.textContent = t < 0 ? "\u2212" + Math.abs(t) : String(t);
    
    
  });
  yTicks.forEach(t => {
    mk("line", {x1:L-14, x2:L, y1:Y(t), y2:Y(t), stroke:"#000", "stroke-width":3}, g);
    const tx = mk("text", {x:L-34, y:Y(t)+16, "font-size":49, "text-anchor":"end"}, g);
    tx.textContent = String(t);
    
    
  });
  const xt = mk("text", {x:(L+R)/2, y:1782, "font-size":44, "text-anchor":"middle"}, g);
  xt.textContent = "UMAP Dimension 1";
  
  
  const yt = mk("text", {x:0, y:0, "font-size":44, "text-anchor":"middle", transform:`translate(${cfg.ytx},${(T+B)/2}) rotate(-90)`}, g);
  yt.textContent = "UMAP Dimension 2";
  
  
  // colorbar
  const cb = mk("g", {}, g);
  
  
  mk("rect", {x:cfg.cbL, y:T, width:cfg.cbR-cfg.cbL, height:B-T, fill:"url(#plasmaGrad)", "fill-opacity":0.7}, cb);
  mk("rect", {x:cfg.cbL, y:T, width:cfg.cbR-cfg.cbL, height:B-T, fill:"none", stroke:"#000", "stroke-width":3.5}, cb);
  const CY = linScale(0, 3, B, T);
  cbTicks.forEach(t => {
    mk("line", {x1:cfg.cbR, x2:cfg.cbR+14, y1:CY(t), y2:CY(t), stroke:"#000", "stroke-width":3}, cb);
    const tx = mk("text", {x:cfg.cbR+34, y:CY(t)+16, "font-size":49}, cb);
    tx.textContent = t.toFixed(1);
    
    
  });
  const cl = mk("text", {x:0, y:0, "font-size":44, "text-anchor":"middle", transform:`translate(${cfg.cbR+150},${(T+B)/2}) rotate(-90)`}, cb);
  cl.textContent = "Class Label";
  
  
  // caption
  const cap = mk("text", {x:cfg.capX, y:1922, "font-size":64, "text-anchor":"middle"}, g);
  
  
  cap.appendChild(document.createTextNode("("));
  const bt = mk("tspan", {"font-weight":"bold"}, cap); bt.textContent = cfg.letter;
  cap.appendChild(document.createTextNode(")"));
}

panel({name:"panel-a", left:139, right:1766, xm2:309, x12:1699, y0:1502.7, y6:108.9,
  ytx:58, cbL:1868, cbR:1949, capX:1051, letter:"a",
  groups:[{value:aClassLabels[0],points:aClass0},{value:aClassLabels[1],points:aClass1},{value:aClassLabels[2],points:aClass2},{value:aClassLabels[3],points:aClass3}]});
panel({name:"panel-b", left:2333, right:3961, xm2:2509, x12:3886, y0:1513, y6:119,
  ytx:2250, cbL:4063, cbR:4143, capX:3245, letter:"b",
  groups:[{value:bGroupValues[0],points:bPurple},{value:bGroupValues[1],points:bMagenta},{value:bGroupValues[2],points:bPink},{value:bGroupValues[3],points:bOrange},{value:bGroupValues[4],points:bYellow}]});
</script>
</body></html>
